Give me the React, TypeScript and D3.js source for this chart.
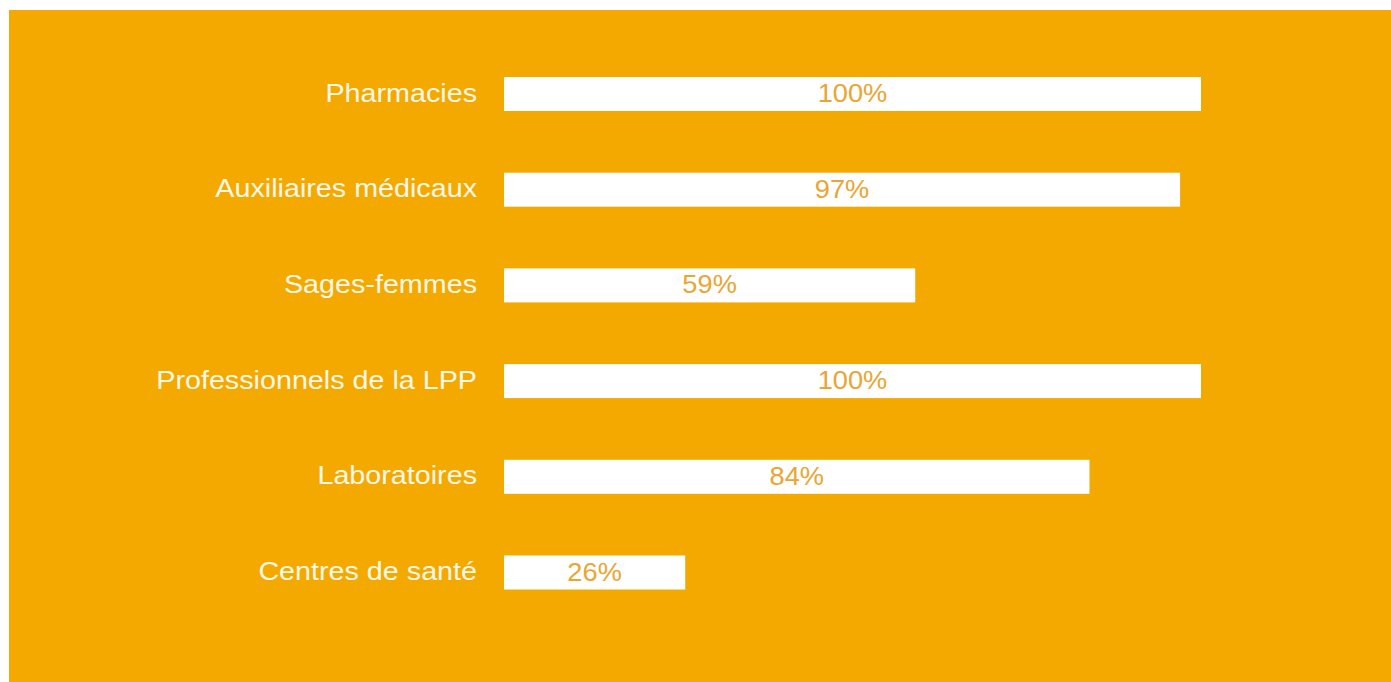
import React from "react";
import * as d3 from "d3";

const categories = [
  "Pharmacies",
  "Auxiliaires médicaux",
  "Sages-femmes",
  "Professionnels de la LPP",
  "Laboratoires",
  "Centres de santé",
];
const values = [100, 97, 59, 100, 84, 26];

const W = 1391;
const H = 682;
const BG = "#F4A900";
const VALUE_COLOR = "#EAA532";
const LABEL_COLOR = "#FFF8EA";

export default function App() {
  const x = d3.scaleLinear().domain([0, 100]).range([504, 1201]);
  const y = d3.scalePoint<string>().domain(categories).range([94, 572.5]);
  const barH = 34;
  return (
    <svg
      width={W}
      height={H}
      style={{ position: "absolute", left: 0, top: 0, display: "block" }}
      fontFamily="'Liberation Sans', Arial, sans-serif"
    >
      <rect x={0} y={0} width={W} height={H} fill="#ffffff" />
      <rect x={9} y={10} width={W - 9} height={H - 10} fill={BG} />
      {categories.map((c, i) => {
        const cy = y(c) as number;
        const v = values[i];
        const x0 = x(0);
        const x1 = x(v);
        const mid = (x0 + x1) / 2;
        return (
          <g key={c}>
            <rect x={x0} y={cy - barH / 2} width={x1 - x0} height={barH} fill="#ffffff" />
            <text
              transform={`translate(477, ${cy + 7.5}) scale(1.105,1)`}
              textAnchor="end"
              fontSize={26}
              fill={LABEL_COLOR}
            >
              {c}
            </text>
            <text
              transform={`translate(${mid}, ${cy + 8}) scale(1.09,1)`}
              textAnchor="middle"
              fontSize={25}
              fill={VALUE_COLOR}
            >
              {`${v}%`}
            </text>
          </g>
        );
      })}
    </svg>
  );
}
